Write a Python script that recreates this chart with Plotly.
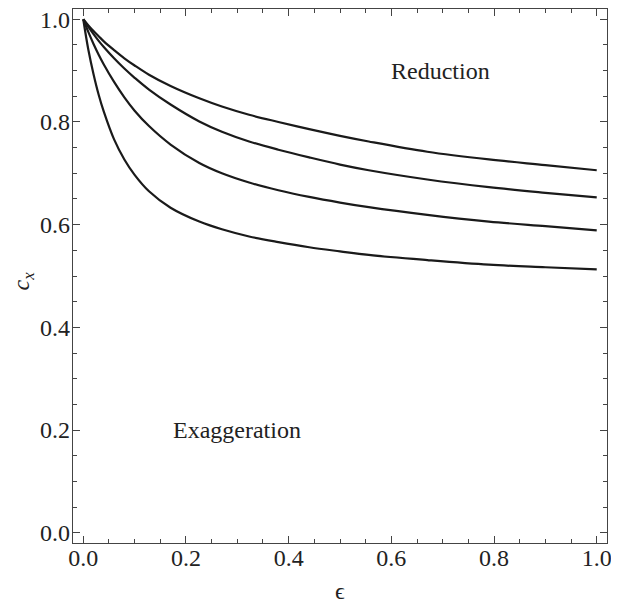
import plotly.graph_objects as go

eps = [0, 0.01, 0.02, 0.03, 0.04, 0.06, 0.08, 0.10, 0.128, 0.17, 0.226, 0.27, 0.323,
       0.38, 0.44, 0.5, 0.556, 0.67, 0.79, 0.9, 1.0]
curve1 = [1.0, 0.988, 0.977, 0.967, 0.957, 0.940, 0.924, 0.910, 0.892, 0.870, 0.846, 0.830, 0.814,
          0.800, 0.786, 0.773, 0.762, 0.742, 0.727, 0.716, 0.706]
curve2 = [1.0, 0.985, 0.971, 0.958, 0.946, 0.924, 0.904, 0.886, 0.863, 0.834, 0.801, 0.781, 0.762,
          0.746, 0.731, 0.717, 0.706, 0.688, 0.673, 0.662, 0.653]
curve3 = [1.0, 0.975, 0.952, 0.931, 0.912, 0.878, 0.848, 0.822, 0.792, 0.756, 0.720, 0.700, 0.682,
          0.667, 0.654, 0.643, 0.634, 0.619, 0.606, 0.597, 0.589]
curve4 = [1.0, 0.940, 0.893, 0.853, 0.820, 0.766, 0.727, 0.697, 0.665, 0.633, 0.606, 0.591, 0.577,
          0.566, 0.556, 0.548, 0.541, 0.531, 0.522, 0.517, 0.513]

tick_vals = [0.0, 0.2, 0.4, 0.6, 0.8, 1.0]
tick_text = ["0.0", "0.2", "0.4", "0.6", "0.8", "1.0"]

FONT = "Liberation Serif"

fig = go.Figure()
for ys in [curve1, curve2, curve3, curve4]:
    fig.add_trace(go.Scatter(x=eps, y=ys, mode="lines",
                             line=dict(color="#1a1a1a", width=2.2, shape="spline", smoothing=1.0),
                             showlegend=False, hoverinfo="skip"))

axis_common = dict(
    showgrid=False, zeroline=False, showline=True, linecolor="#444", linewidth=1.2,
    mirror="ticks", ticks="inside", ticklen=7, tickwidth=1, tickcolor="#444",
    tickvals=tick_vals, ticktext=tick_text, automargin=False,
    ticklabeloverflow="allow",
    tickfont=dict(family=FONT, size=24, color="#222"),
    minor=dict(dtick=0.05, tick0=0, ticks="inside", ticklen=4, tickwidth=1, tickcolor="#444"),
    range=[-0.02, 1.02],
)

# the page body has an 8px margin, so the figure is sized/offset to compensate
fig.update_layout(
    width=611, height=595,
    margin=dict(l=65, r=12, t=1, b=60),
    paper_bgcolor="white", plot_bgcolor="white",
    xaxis=dict(**axis_common, ticklabelstandoff=-7),
    yaxis=dict(**axis_common, ticklabelstandoff=-3),
    font=dict(family=FONT, color="#222"),
    annotations=[
        dict(x=0.695, y=0.9, xref="x", yref="y", text="Reduction", showarrow=False,
             font=dict(family=FONT, size=24, color="#222")),
        dict(x=0.3, y=0.2, xref="x", yref="y", text="Exaggeration", showarrow=False,
             font=dict(family=FONT, size=24, color="#222")),
        dict(x=0.5, y=-0.09, xref="x", yref="paper", yanchor="middle",
             text="ϵ", showarrow=False,
             font=dict(family=FONT, size=24, color="#222")),
        dict(x=-0.093, y=0.49, xref="paper", yref="y", xanchor="center", yanchor="middle",
             text="<i>c</i><sub><i>x</i></sub>", showarrow=False, textangle=-90,
             font=dict(family=FONT, size=24, color="#222")),
    ],
)

fig.write_html("out.html")
